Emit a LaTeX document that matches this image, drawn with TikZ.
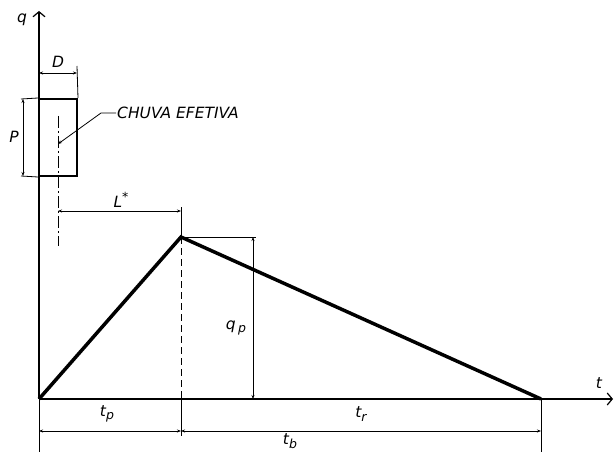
\documentclass[tikz,border=0pt]{standalone}
\usepackage{fontspec}
\setmainfont{DejaVu Sans}
\usepackage{tikz}
\usetikzlibrary{arrows.meta,positioning}
\newcommand{\lowidx}[1]{\raisebox{-0.4ex}{\fontsize{12.5}{13}\selectfont #1}}
\newcommand{\highidx}[1]{\raisebox{0.7ex}{\fontsize{12.5}{13}\selectfont #1}}

\begin{document}
\begin{tikzpicture}[
  x=1pt,y=-1pt,
  every node/.style={font=\fontsize{15.5}{17}\selectfont\itshape,inner sep=1pt},
  axis/.style={line width=2pt,-{Straight Barb[length=5pt,width=12pt,line width=1.2pt]}},
  hydro/.style={line width=3.5pt,line join=miter},
  thin/.style={line width=0.8pt},
  dim/.style={line width=0.8pt,{Stealth[length=4pt,width=3pt]}-{Stealth[length=4pt,width=3pt]}},
  rainbox/.style={rectangle,draw,line width=2pt,minimum width=38pt,minimum height=77pt,inner sep=0pt}
]
\useasboundingbox (0,0) rectangle (614,452);
% main points
\coordinate (O) at (39,399);
\coordinate (pk) at (181,237);
\coordinate (end) at (541,399);
% axes
\draw[axis] (O) -- (39,11) coordinate (qtop);
\draw[axis] (O) -- (613,399) coordinate (tend);
\node (qlab) at (22,20) {q};
\node (tlab) at (599,383) {t};
% hydrograph
\draw[hydro] (O) -- (pk) -- (end);
\draw[thin,dashed,dash pattern=on 7pt off 4pt] (pk) -- (181,399) coordinate (pkbase);
% effective rain block
\node[rainbox] (rain) at (58,137.5) {};
\draw[thin,dash pattern=on 12pt off 3pt on 2pt off 3pt] (58,116) coordinate (ctop) -- (58,246) coordinate (cbot);
\node[anchor=west] (chuva) at (116,113) {CHUVA EFETIVA};
\draw[thin,-{Stealth[length=4pt,width=3pt]}] (chuva.west) -- (101,113) -- (58,144) coordinate (cmid);
% D
\draw[thin] (rain.north east) -- (77,66);
\draw[dim] (39,73) coordinate (dl) -- (77,73) coordinate (dr);
\node (dlab) at (58,62) {D};
% P
\draw[thin] (rain.north west) -- (21,99);
\draw[thin] (rain.south west) -- (21,176);
\draw[dim] (23,99) coordinate (pt) -- (23,176) coordinate (pb);
\node (plab) at (14,137) {P};
% L*
\draw[thin] (pk) -- (181,207);
\draw[dim] (58,211) coordinate (ll) -- (181,211) coordinate (lr);
\node (llab) at (121,200) {L\highidx{*}};
% qp
\draw[thin] (pk) -- (256,237);
\draw[dim] (253,237) coordinate (qt) -- (253,399) coordinate (qb);
\node (qplab) at (236,328) {q\,\lowidx{p}};
% time dimensions
\draw[thin] (O) -- (39,452);
\draw[thin] (pkbase) -- (181,436);
\draw[thin] (end) -- (541,452);
\draw[dim] (39,431) coordinate (tpl) -- (181,431) coordinate (tpr);
\draw[dim] (181,431) -- (541,431) coordinate (trr);
\node (tplab) at (107,414) {t\lowidx{p}};
\node (trlab) at (361,414) {t\lowidx{r}};
\node (tblab) at (290,441) {t\lowidx{b}};
\end{tikzpicture}
\end{document}
